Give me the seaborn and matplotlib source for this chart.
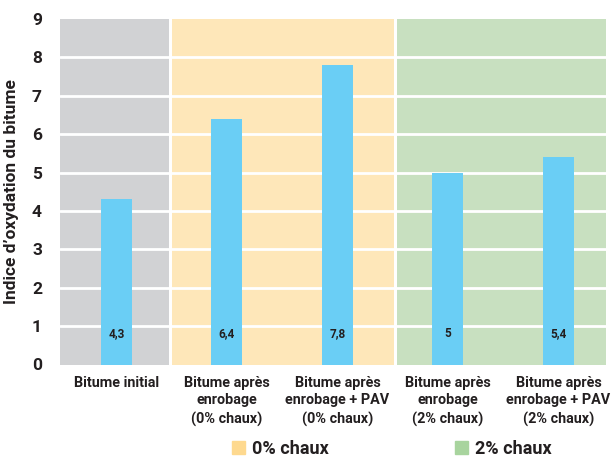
import numpy as np
import pandas as pd
import seaborn as sns
import matplotlib.pyplot as plt
from matplotlib.patches import Patch

categories = ["Bitume initial",
              "Bitume après\nenrobage\n(0% chaux)",
              "Bitume après\nenrobage + PAV\n(0% chaux)",
              "Bitume après\nenrobage\n(2% chaux)",
              "Bitume après\nenrobage + PAV\n(2% chaux)"]
values = [4.3, 6.4, 7.8, 5.0, 5.4]
value_labels = ["4,3", "6,4", "7,8", "5", "5,4"]
legend_labels = ["0% chaux", "2% chaux"]

df = pd.DataFrame({"cat": categories, "val": values})

sns.set_style("white")
plt.rcParams['font.family'] = ['Roboto', 'DejaVu Sans']
plt.rcParams['font.weight'] = 'bold'
txt = "#231f20"

fig = plt.figure(figsize=(6.11, 4.58), dpi=100)
ax = fig.add_axes([60 / 611, 1 - 364.5 / 458, 546 / 611, 345.5 / 458])

# background bands per group
ax.axvspan(-0.51, 0.477, color="#d1d2d4", lw=0, zorder=0)
ax.axvspan(0.501, 2.512, color="#fee7b9", lw=0, zorder=0)
ax.axvspan(2.536, 4.43, color="#c8e0c0", lw=0, zorder=0)
for yv in range(1, 9):
    ax.axhline(yv, color="white", lw=2, zorder=1)

sns.barplot(data=df, x="cat", y="val", color="#6acef5", width=0.28,
            saturation=1, ax=ax, zorder=2)
for p in ax.patches:
    p.set_edgecolor("none")

for i, lab in enumerate(value_labels):
    ax.text(i, 0.8, lab, ha="center", va="center", fontsize=8.5,
            fontweight="bold", color=txt, zorder=3)

ax.set_xlim(-0.51, 4.43)
ax.set_ylim(0, 9)
ax.set_yticks(range(0, 10))
ax.set_xlabel("")
ax.set_ylabel("Indice d’oxydation du bitume", fontsize=12.5, fontweight="bold",
              color=txt, labelpad=9)
ax.tick_params(axis="both", length=0, colors=txt)
ax.tick_params(axis="y", labelsize=12.5, pad=13)
ax.tick_params(axis="x", labelsize=10.4, pad=8)
for t in ax.get_xticklabels():
    t.set_fontweight("bold")
    t.set_linespacing(1.35)
for t in ax.get_yticklabels():
    t.set_fontweight("bold")
for s in ax.spines.values():
    s.set_visible(False)

handles = [Patch(color="#fed98f", label=legend_labels[0]),
           Patch(color="#a8d49e", label=legend_labels[1])]
fig.legend(handles=handles, loc="lower center", ncol=2, frameon=False,
           bbox_to_anchor=(0.641, -0.035), prop={"weight": "bold", "size": 13},
           handlelength=0.7, handleheight=0.8, columnspacing=7.0, handletextpad=0.4,
           labelcolor=txt)

fig.savefig("out.png", dpi=100)
